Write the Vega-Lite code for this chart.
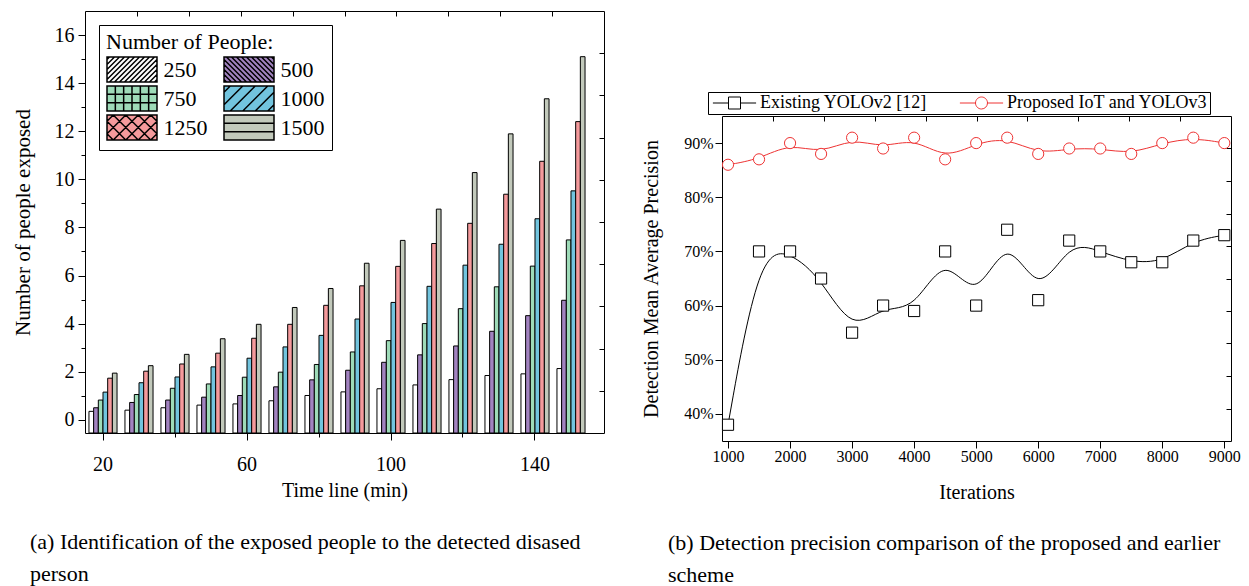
{
  "$schema": "https://vega.github.io/schema/vega-lite/v6.json",
  "padding": {"left": 12, "top": 8, "right": 5, "bottom": 0},
  "background": "white",
  "config": {
    "font": "Liberation Serif",
    "view": {"stroke": null},
    "axis": {"domainColor": "black", "tickColor": "black", "labelColor": "black", "titleColor": "black", "titleFontWeight": "normal", "grid": false, "domainWidth": 1, "tickWidth": 1, "labelFont": "Liberation Serif", "titleFont": "Liberation Serif"},
    "legend": {"labelFont": "Liberation Serif", "titleFont": "Liberation Serif", "titleFontWeight": "normal", "labelColor": "black", "titleColor": "black", "labelLimit": 400},
    "title": {"fontWeight": "normal", "color": "black", "font": "Liberation Serif"}
  },
  "spacing": 34,
  "resolve": {
    "scale": {"fill": "independent", "color": "independent", "shape": "independent", "stroke": "independent"},
    "legend": {"fill": "independent", "color": "independent", "shape": "independent", "stroke": "independent"}
  },
  "hconcat": [
    {
      "title": {"text": ["(a) Identification of the exposed people to the detected disased", "person"], "orient": "bottom", "anchor": "start", "frame": "group", "dx": -55, "offset": 32, "fontSize": 22, "lineHeight": 32},
      "width": 519,
      "height": 422,
      "layer": [
        {
          "data": {"values": [
            {"t": 20, "n": 250, "v": 0.35}, {"t": 20, "n": 500, "v": 0.5}, {"t": 20, "n": 750, "v": 0.82}, {"t": 20, "n": 1000, "v": 1.15}, {"t": 20, "n": 1250, "v": 1.73}, {"t": 20, "n": 1500, "v": 1.94},
            {"t": 30, "n": 250, "v": 0.4}, {"t": 30, "n": 500, "v": 0.72}, {"t": 30, "n": 750, "v": 1.05}, {"t": 30, "n": 1000, "v": 1.54}, {"t": 30, "n": 1250, "v": 2.02}, {"t": 30, "n": 1500, "v": 2.25},
            {"t": 40, "n": 250, "v": 0.5}, {"t": 40, "n": 500, "v": 0.82}, {"t": 40, "n": 750, "v": 1.31}, {"t": 40, "n": 1000, "v": 1.78}, {"t": 40, "n": 1250, "v": 2.32}, {"t": 40, "n": 1500, "v": 2.72},
            {"t": 50, "n": 250, "v": 0.61}, {"t": 50, "n": 500, "v": 0.94}, {"t": 50, "n": 750, "v": 1.49}, {"t": 50, "n": 1000, "v": 2.2}, {"t": 50, "n": 1250, "v": 2.77}, {"t": 50, "n": 1500, "v": 3.37},
            {"t": 60, "n": 250, "v": 0.66}, {"t": 60, "n": 500, "v": 1.01}, {"t": 60, "n": 750, "v": 1.77}, {"t": 60, "n": 1000, "v": 2.56}, {"t": 60, "n": 1250, "v": 3.39}, {"t": 60, "n": 1500, "v": 3.97},
            {"t": 70, "n": 250, "v": 0.79}, {"t": 70, "n": 500, "v": 1.37}, {"t": 70, "n": 750, "v": 1.98}, {"t": 70, "n": 1000, "v": 3.03}, {"t": 70, "n": 1250, "v": 3.97}, {"t": 70, "n": 1500, "v": 4.67},
            {"t": 80, "n": 250, "v": 1.01}, {"t": 80, "n": 500, "v": 1.66}, {"t": 80, "n": 750, "v": 2.3}, {"t": 80, "n": 1000, "v": 3.51}, {"t": 80, "n": 1250, "v": 4.76}, {"t": 80, "n": 1500, "v": 5.46},
            {"t": 90, "n": 250, "v": 1.16}, {"t": 90, "n": 500, "v": 2.06}, {"t": 90, "n": 750, "v": 2.82}, {"t": 90, "n": 1000, "v": 4.19}, {"t": 90, "n": 1250, "v": 5.57}, {"t": 90, "n": 1500, "v": 6.51},
            {"t": 100, "n": 250, "v": 1.29}, {"t": 100, "n": 500, "v": 2.39}, {"t": 100, "n": 750, "v": 3.29}, {"t": 100, "n": 1000, "v": 4.88}, {"t": 100, "n": 1250, "v": 6.38}, {"t": 100, "n": 1500, "v": 7.46},
            {"t": 110, "n": 250, "v": 1.45}, {"t": 110, "n": 500, "v": 2.7}, {"t": 110, "n": 750, "v": 4.0}, {"t": 110, "n": 1000, "v": 5.55}, {"t": 110, "n": 1250, "v": 7.33}, {"t": 110, "n": 1500, "v": 8.76},
            {"t": 120, "n": 250, "v": 1.67}, {"t": 120, "n": 500, "v": 3.07}, {"t": 120, "n": 750, "v": 4.62}, {"t": 120, "n": 1000, "v": 6.43}, {"t": 120, "n": 1250, "v": 8.17}, {"t": 120, "n": 1500, "v": 10.28},
            {"t": 130, "n": 250, "v": 1.84}, {"t": 130, "n": 500, "v": 3.68}, {"t": 130, "n": 750, "v": 5.53}, {"t": 130, "n": 1000, "v": 7.3}, {"t": 130, "n": 1250, "v": 9.38}, {"t": 130, "n": 1500, "v": 11.89},
            {"t": 140, "n": 250, "v": 1.91}, {"t": 140, "n": 500, "v": 4.33}, {"t": 140, "n": 750, "v": 6.39}, {"t": 140, "n": 1000, "v": 8.36}, {"t": 140, "n": 1250, "v": 10.75}, {"t": 140, "n": 1500, "v": 13.35},
            {"t": 150, "n": 250, "v": 2.13}, {"t": 150, "n": 500, "v": 4.97}, {"t": 150, "n": 750, "v": 7.48}, {"t": 150, "n": 1000, "v": 9.52}, {"t": 150, "n": 1250, "v": 12.4}, {"t": 150, "n": 1500, "v": 15.1}
          ]},
          "mark": {"type": "bar", "stroke": "black", "strokeWidth": 1},
          "encoding": {
            "x": {
              "field": "t", "type": "ordinal",
              "scale": {"type": "band", "paddingInner": 0.22, "paddingOuter": 0.3185, "align": 0.173},
              "axis": {
                "title": "Time line (min)", "titleFontSize": 20, "titlePadding": 6,
                "values": [20, 40, 60, 80, 100, 120, 140],
                "labelExpr": "datum.value % 40 === 20 ? datum.label : ''",
                "labelAngle": 0, "labelFontSize": 20, "labelPadding": 14,
                "tickSize": {"condition": {"test": "datum.value % 40 === 20", "value": 7}, "value": 4}
              }
            },
            "xOffset": {"field": "n", "type": "ordinal", "scale": {"paddingInner": 0, "paddingOuter": 0}},
            "y": {
              "field": "v", "type": "quantitative",
              "scale": {"domain": [-0.55, 17], "nice": false, "zero": false},
              "axis": {
                "title": "Number of people exposed", "titleFontSize": 21, "titlePadding": 21,
                "values": [0, 1, 2, 3, 4, 5, 6, 7, 8, 9, 10, 11, 12, 13, 14, 15, 16],
                "labelExpr": "datum.value % 2 === 0 ? datum.label : ''",
                "labelFontSize": 20, "labelPadding": 4,
                "tickSize": {"condition": {"test": "datum.value % 2 === 0", "value": 7}, "value": 4}
              }
            },
            "y2": {"datum": -0.55},
            "fill": {
              "field": "n", "type": "ordinal",
              "scale": {"domain": [250, 500, 750, 1000, 1250, 1500], "range": ["#ffffff", "#a283c0", "#9edbb8", "#72c4de", "#f59a9c", "#c2c9bb"]},
              "legend": {
                "title": "Number of People:", "titleFontSize": 22, "titlePadding": 2,
                "orient": "top-left", "offset": 14, "columns": 2, "direction": "horizontal", "columnPadding": 13, "rowPadding": -5,
                "labelFontSize": 22, "labelOffset": 18, "symbolSize": 625, "symbolOffset": 12.5, "symbolStrokeColor": "black", "symbolStrokeWidth": 1.5,
                "symbolType": "M-2,-1L2,-1L2,1L-2,1Z",
                "padding": 7, "strokeColor": "black", "fillColor": "white",
                "encode": {
                  "symbols": {
                    "update": {
                      "shape": {"signal": "datum.value == 250 ? 'M-2,-1L2,-1L2,1L-2,1ZM-1.8,-1L-2,-0.8M-1.4,-1L-2,-0.4M-1,-1L-2,0M-0.6,-1L-2,0.4M-0.2,-1L-2,0.8M0.2,-1L-1.8,1M0.6,-1L-1.4,1M1,-1L-1,1M1.4,-1L-0.6,1M1.8,-1L-0.2,1M2,-0.8L0.2,1M2,-0.4L0.6,1M2,0L1,1M2,0.4L1.4,1M2,0.8L1.8,1' : datum.value == 500 ? 'M-2,-1L2,-1L2,1L-2,1ZM1.8,-1L2,-0.8M1.4,-1L2,-0.4M1,-1L2,0M0.6,-1L2,0.4M0.2,-1L2,0.8M-0.2,-1L1.8,1M-0.6,-1L1.4,1M-1,-1L1,1M-1.4,-1L0.6,1M-1.8,-1L0.2,1M-2,-0.8L-0.2,1M-2,-0.4L-0.6,1M-2,0L-1,1M-2,0.4L-1.4,1M-2,0.8L-1.8,1' : datum.value == 750 ? 'M-2,-1L2,-1L2,1L-2,1ZM-1.333,-1L-1.333,1M-0.667,-1L-0.667,1M0,-1L0,1M0.667,-1L0.667,1M1.333,-1L1.333,1M-2,-0.333L2,-0.333M-2,0.333L2,0.333' : datum.value == 1000 ? 'M-2,-1L2,-1L2,1L-2,1ZM-1.5,-1L-2,-0.5M-0.5,-1L-2,0.5M0.5,-1L-1.5,1M1.5,-1L-0.5,1M2,-0.5L0.5,1M2,0.5L1.5,1' : datum.value == 1250 ? 'M-2,-1L2,-1L2,1L-2,1ZM-1.5,-1L-2,-0.5M-0.5,-1L-2,0.5M0.5,-1L-1.5,1M1.5,-1L-0.5,1M2,-0.5L0.5,1M2,0.5L1.5,1M1.5,-1L2,-0.5M0.5,-1L2,0.5M-0.5,-1L1.5,1M-1.5,-1L0.5,1M-2,-0.5L-0.5,1M-2,0.5L-1.5,1' : 'M-2,-1L2,-1L2,1L-2,1ZM-2,-0.333L2,-0.333M-2,0.333L2,0.333'"},
                      "stroke": {"value": "black"}
                    }
                  }
                }
              }
            }
          }
        },
        {
          "data": {"values": [{"f": 0}, {"f": 10}]},
          "mark": {"type": "point", "opacity": 0},
          "encoding": {
            "x": {"field": "f", "type": "quantitative", "scale": {"domain": [0, 10], "nice": false}, "axis": {"orient": "top", "labels": false, "title": null, "values": [1, 2, 3, 4, 5, 6, 7, 8, 9], "tickSize": -5}},
            "y": {"field": "f", "type": "quantitative", "scale": {"domain": [0, 10], "nice": false}, "axis": {"orient": "right", "labels": false, "title": null, "values": [1, 2, 3, 4, 5, 6, 7, 8, 9], "tickSize": -5}}
          }
        }
      ],
      "resolve": {"scale": {"x": "independent", "y": "independent"}, "axis": {"x": "independent", "y": "independent"}}
    },
    {
      "spacing": 20,
      "resolve": {
        "scale": {"color": "independent", "shape": "independent", "stroke": "independent"},
        "legend": {"color": "independent", "shape": "independent", "stroke": "independent"}
      },
      "vconcat": [
        {"width": 10, "height": 60, "data": {"values": [{"z": 0}]}, "mark": {"type": "point", "opacity": 0}, "encoding": {}},
        {
          "title": {"text": ["(b) Detection precision comparison of the proposed and earlier", "scheme"], "orient": "bottom", "anchor": "start", "frame": "group", "dx": -54, "offset": 31, "fontSize": 22, "lineHeight": 32},
          "width": 509,
          "height": 325,
          "layer": [
            {
              "data": {"values": [
                {"iter": 1000, "map": 38, "series": "Existing YOLOv2 [12]"}, {"iter": 1500, "map": 70, "series": "Existing YOLOv2 [12]"}, {"iter": 2000, "map": 70, "series": "Existing YOLOv2 [12]"}, {"iter": 2500, "map": 65, "series": "Existing YOLOv2 [12]"}, {"iter": 3000, "map": 55, "series": "Existing YOLOv2 [12]"}, {"iter": 3500, "map": 60, "series": "Existing YOLOv2 [12]"}, {"iter": 4000, "map": 59, "series": "Existing YOLOv2 [12]"}, {"iter": 4500, "map": 70, "series": "Existing YOLOv2 [12]"}, {"iter": 5000, "map": 60, "series": "Existing YOLOv2 [12]"}, {"iter": 5500, "map": 74, "series": "Existing YOLOv2 [12]"}, {"iter": 6000, "map": 61, "series": "Existing YOLOv2 [12]"}, {"iter": 6500, "map": 72, "series": "Existing YOLOv2 [12]"}, {"iter": 7000, "map": 70, "series": "Existing YOLOv2 [12]"}, {"iter": 7500, "map": 68, "series": "Existing YOLOv2 [12]"}, {"iter": 8000, "map": 68, "series": "Existing YOLOv2 [12]"}, {"iter": 8500, "map": 72, "series": "Existing YOLOv2 [12]"}, {"iter": 9000, "map": 73, "series": "Existing YOLOv2 [12]"},
                {"iter": 1000, "map": 86, "series": "Proposed IoT and YOLOv3"}, {"iter": 1500, "map": 87, "series": "Proposed IoT and YOLOv3"}, {"iter": 2000, "map": 90, "series": "Proposed IoT and YOLOv3"}, {"iter": 2500, "map": 88, "series": "Proposed IoT and YOLOv3"}, {"iter": 3000, "map": 91, "series": "Proposed IoT and YOLOv3"}, {"iter": 3500, "map": 89, "series": "Proposed IoT and YOLOv3"}, {"iter": 4000, "map": 91, "series": "Proposed IoT and YOLOv3"}, {"iter": 4500, "map": 87, "series": "Proposed IoT and YOLOv3"}, {"iter": 5000, "map": 90, "series": "Proposed IoT and YOLOv3"}, {"iter": 5500, "map": 91, "series": "Proposed IoT and YOLOv3"}, {"iter": 6000, "map": 88, "series": "Proposed IoT and YOLOv3"}, {"iter": 6500, "map": 89, "series": "Proposed IoT and YOLOv3"}, {"iter": 7000, "map": 89, "series": "Proposed IoT and YOLOv3"}, {"iter": 7500, "map": 88, "series": "Proposed IoT and YOLOv3"}, {"iter": 8000, "map": 90, "series": "Proposed IoT and YOLOv3"}, {"iter": 8500, "map": 91, "series": "Proposed IoT and YOLOv3"}, {"iter": 9000, "map": 90, "series": "Proposed IoT and YOLOv3"}
              ]},
              "layer": [
                {
                  "mark": {"type": "line", "interpolate": "basis", "strokeWidth": 1},
                  "encoding": {
                    "x": {
                      "field": "iter", "type": "quantitative",
                      "scale": {"domain": [903, 9108], "nice": false, "zero": false},
                      "axis": {
                        "title": "Iterations", "titleFontSize": 20, "titlePadding": 18,
                        "values": [1000, 1500, 2000, 2500, 3000, 3500, 4000, 4500, 5000, 5500, 6000, 6500, 7000, 7500, 8000, 8500, 9000],
                        "format": "d",
                        "labelExpr": "datum.value % 1000 === 0 ? datum.label : ''",
                        "labelFontSize": 16, "labelPadding": 0, "labelFlush": false,
                        "tickSize": {"condition": {"test": "datum.value % 1000 === 0", "value": 7}, "value": 4}
                      }
                    },
                    "y": {
                      "field": "map", "type": "quantitative",
                      "scale": {"domain": [35, 95], "nice": false, "zero": false},
                      "axis": {
                        "title": "Detection Mean Average Precision", "titleFontSize": 20, "titlePadding": 22,
                        "values": [40, 45, 50, 55, 60, 65, 70, 75, 80, 85, 90],
                        "labelExpr": "datum.value % 10 === 0 ? datum.value + '%' : ''",
                        "labelFontSize": 16, "labelPadding": 2,
                        "tickSize": {"condition": {"test": "datum.value % 10 === 0", "value": 7}, "value": 4}
                      }
                    },
                    "color": {
                      "field": "series", "type": "nominal",
                      "scale": {"domain": ["Existing YOLOv2 [12]", "Proposed IoT and YOLOv3"], "range": ["black", "#ee3333"]},
                      "legend": {
                        "title": null, "orient": "none", "legendX": -14, "legendY": -24, "direction": "horizontal",
                        "labelFontSize": 18, "labelOffset": 16.5, "columnPadding": 30, "symbolSize": 144, "symbolOffset": 15.5, "symbolStrokeWidth": 1,
                        "padding": 2, "strokeColor": "black", "fillColor": "white",
                        "encode": {
                          "symbols": {
                            "update": {
                              "shape": {"signal": "datum.value == 'Existing YOLOv2 [12]' ? 'M-3.6,0L-1,0M1,0L3.6,0M-1,-1L1,-1L1,1L-1,1Z' : 'M-3.6,0L-1,0M1,0L3.6,0M1,0A1,1,0,1,1,-1,0A1,1,0,1,1,1,0'"},
                              "fill": {"value": "white"}
                            }
                          }
                        }
                      }
                    }
                  }
                },
                {
                  "transform": [{"filter": "datum.series === 'Existing YOLOv2 [12]'"}],
                  "mark": {"type": "point", "shape": "square", "filled": true, "fill": "white", "stroke": "black", "size": 125, "strokeWidth": 1, "opacity": 1},
                  "encoding": {
                    "x": {"field": "iter", "type": "quantitative"},
                    "y": {"field": "map", "type": "quantitative"}
                  }
                },
                {
                  "transform": [{"filter": "datum.series === 'Proposed IoT and YOLOv3'"}],
                  "mark": {"type": "point", "shape": "circle", "filled": true, "fill": "white", "stroke": "#ee3333", "size": 125, "strokeWidth": 1, "opacity": 1},
                  "encoding": {
                    "x": {"field": "iter", "type": "quantitative"},
                    "y": {"field": "map", "type": "quantitative"}
                  }
                }
              ]
            },
            {
              "data": {"values": [{"f": 0}, {"f": 10}]},
              "mark": {"type": "point", "opacity": 0},
              "encoding": {
                "x": {"field": "f", "type": "quantitative", "scale": {"domain": [0, 10], "nice": false}, "axis": {"orient": "top", "labels": false, "title": null, "values": [1, 2, 3, 4, 5, 6, 7, 8, 9], "tickSize": -5}},
                "y": {"field": "f", "type": "quantitative", "scale": {"domain": [0, 10], "nice": false}, "axis": {"orient": "right", "labels": false, "title": null, "values": [1, 2, 3, 4, 5, 6, 7, 8, 9], "tickSize": -5}}
              }
            }
          ],
          "resolve": {"scale": {"x": "independent", "y": "independent"}, "axis": {"x": "independent", "y": "independent"}}
        }
      ]
    }
  ]
}
